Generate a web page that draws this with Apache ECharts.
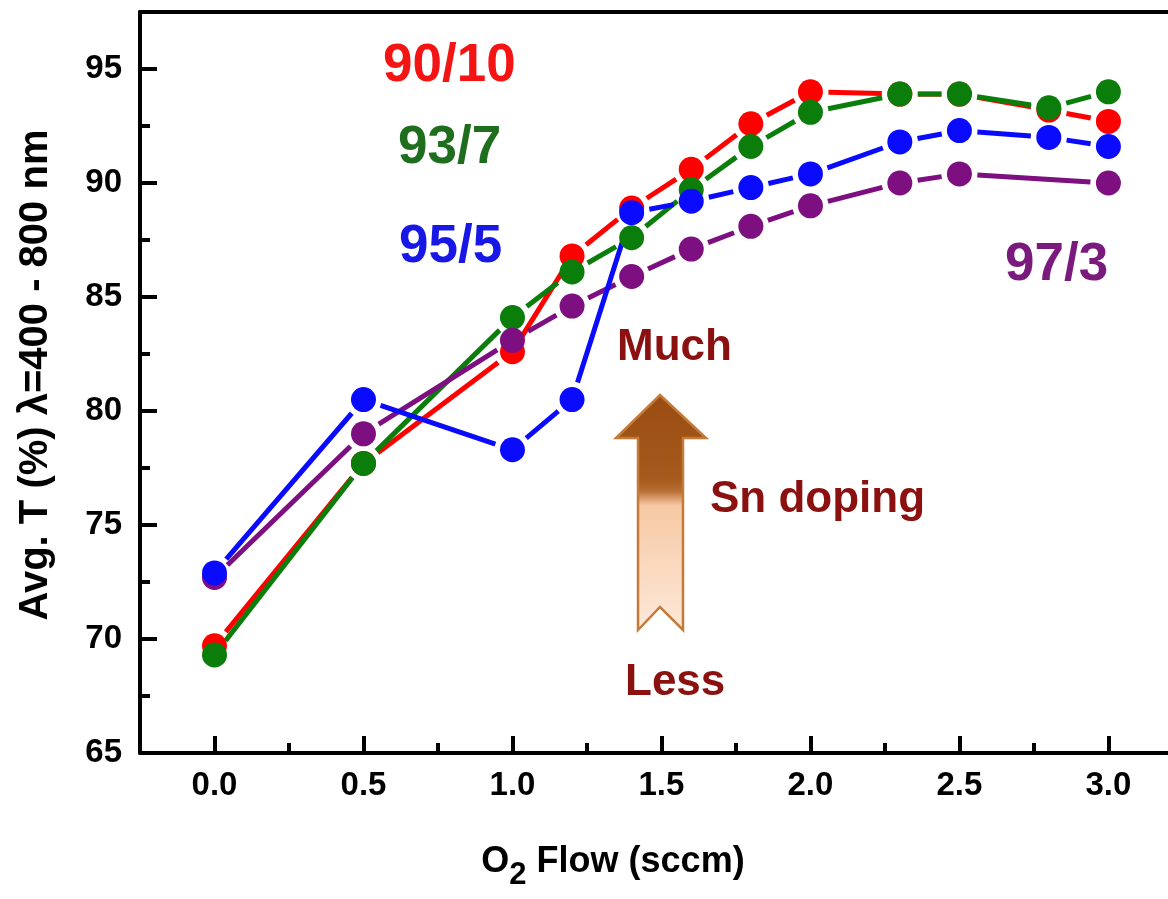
<!DOCTYPE html>
<html>
<head>
<meta charset="utf-8">
<script src="https://cdn.jsdelivr.net/npm/echarts@6/dist/echarts.min.js"></script>
<style>
html,body{margin:0;padding:0;background:#fff;}
#chart{width:1168px;height:899px;}
</style>
</head>
<body>
<div id="chart"></div>
<script>
// ---- data ----
const xFlow = [0, 0.5, 1.0, 1.2, 1.4, 1.6, 1.8, 2.0, 2.3, 2.5, 2.8, 3.0];
const t90_10 = [69.7, 77.7, 82.6, 86.8, 88.9, 90.6, 92.6, 94.0, 93.9, 93.9, 93.2, 92.7];
const t93_7  = [69.3, 77.7, 84.1, 86.1, 87.6, 89.7, 91.6, 93.1, 93.9, 93.9, 93.3, 94.0];
const t97_3  = [72.7, 79.0, 83.1, 84.6, 85.9, 87.1, 88.1, 89.0, 90.0, 90.4, null, 90.0];
const t95_5  = [72.9, 80.5, 78.3, 80.5, 88.7, 89.2, 89.8, 90.4, 91.8, 92.3, 92.0, 91.6];
const seriesNames = ['90/10', '93/7', '97/3', '95/5'];
const xTickLabels = [0, 0.5, 1.0, 1.5, 2.0, 2.5, 3.0];
const xMinorTicks = [0.25, 0.75, 1.25, 1.75, 2.25, 2.75];
const yTickLabels = [65, 70, 75, 80, 85, 90, 95];
const yMinorTicks = [67.5, 72.5, 77.5, 82.5, 87.5, 92.5];

const FONT = '"Liberation Sans", Arial, Helvetica, sans-serif';
const colors = {'90/10': '#ff0000', '93/7': '#0a7d0a', '97/3': '#7d0f80', '95/5': '#0a0aff'};
const valuesByName = {'90/10': t90_10, '93/7': t93_7, '97/3': t97_3, '95/5': t95_5};

function points(vals) {
  const p = [];
  xFlow.forEach((x, i) => { if (vals[i] != null) p.push([x, vals[i]]); });
  return p;
}
function segments(vals) {
  const p = points(vals), s = [];
  for (let i = 0; i < p.length - 1; i++) s.push([p[i][0], p[i][1], p[i + 1][0], p[i + 1][1]]);
  return s;
}
const TRIM = 18;
function makeRender(color) {
  return function (params, api) {
    const a = api.coord([api.value(0), api.value(1)]);
    const b = api.coord([api.value(2), api.value(3)]);
    const dx = b[0] - a[0], dy = b[1] - a[1];
    const len = Math.sqrt(dx * dx + dy * dy);
    if (len <= 2 * TRIM + 2) return null;
    const ux = dx / len, uy = dy / len;
    return {
      type: 'line',
      shape: {x1: a[0] + ux * TRIM, y1: a[1] + uy * TRIM, x2: b[0] - ux * TRIM, y2: b[1] - uy * TRIM},
      style: {stroke: color, lineWidth: 5, lineCap: 'butt'}
    };
  };
}

const series = [];
seriesNames.forEach(name => {
  const c = colors[name];
  series.push({
    type: 'custom', name: name + ' line', xAxisIndex: 0, yAxisIndex: 0,
    data: segments(valuesByName[name]),
    encode: {x: [0, 2], y: [1, 3]},
    renderItem: makeRender(c), silent: true, clip: false
  });
  series.push({
    type: 'scatter', name: name, xAxisIndex: 0, yAxisIndex: 0,
    data: points(valuesByName[name]), symbolSize: 25,
    itemStyle: {color: c, opacity: 1}, silent: true
  });
});

const chart = echarts.init(document.getElementById('chart'), null, {renderer: 'canvas'});
const X_MIN = -0.25, X_MAX = 3.2, Y_MIN = 65, Y_MAX = 97.5;
const axisBase = {type: 'value', splitLine: {show: false}};
const lineStyleBlack = {color: '#000', width: 4};
chart.setOption({
  animation: false,
  backgroundColor: '#ffffff',
  grid: {left: 140, top: 12, right: 0, bottom: 146, show: false},
  xAxis: [
    Object.assign({}, axisBase, {
      min: X_MIN, max: X_MAX, position: 'bottom',
      axisLine: {show: true, onZero: false, lineStyle: lineStyleBlack},
      axisTick: {show: true, inside: true, length: 17, customValues: xTickLabels, lineStyle: lineStyleBlack},
      axisLabel: {show: true, customValues: xTickLabels, margin: 16, formatter: v => Number(v).toFixed(1),
        color: '#000', fontSize: 33, fontWeight: 'bold', fontFamily: FONT}
    }),
    Object.assign({}, axisBase, {
      min: X_MIN, max: X_MAX, position: 'bottom',
      axisLine: {show: false, onZero: false},
      axisTick: {show: true, inside: true, length: 10, customValues: xMinorTicks, lineStyle: lineStyleBlack},
      axisLabel: {show: false}
    }),
    Object.assign({}, axisBase, {
      min: X_MIN, max: X_MAX, position: 'top',
      axisLine: {show: true, onZero: false, lineStyle: lineStyleBlack},
      axisTick: {show: false}, axisLabel: {show: false}
    })
  ],
  yAxis: [
    Object.assign({}, axisBase, {
      min: Y_MIN, max: Y_MAX, position: 'left',
      axisLine: {show: true, onZero: false, lineStyle: lineStyleBlack},
      axisTick: {show: true, inside: true, length: 17, customValues: yTickLabels, lineStyle: lineStyleBlack},
      axisLabel: {show: true, customValues: yTickLabels, margin: 18, formatter: v => String(v),
        color: '#000', fontSize: 33, fontWeight: 'bold', fontFamily: FONT}
    }),
    Object.assign({}, axisBase, {
      min: Y_MIN, max: Y_MAX, position: 'left', offset: 0,
      axisLine: {show: false, onZero: false},
      axisTick: {show: true, inside: true, length: 10, customValues: yMinorTicks, lineStyle: lineStyleBlack},
      axisLabel: {show: false}
    })
  ],
  series: series,
  graphic: [
    {type: 'text', x: 36, y: 375, rotation: Math.PI / 2,
      style: {text: 'Avg. T (%) \u03bb=400 - 800 nm', fill: '#000', font: 'bold 40px ' + FONT,
        textAlign: 'center', textVerticalAlign: 'middle'}},
    {type: 'text', x: 613, y: 862,
      style: {text: '{a|O}{s|2}{a| Flow (sccm)}', fill: '#000', textAlign: 'center', textVerticalAlign: 'middle',
        rich: {a: {fontSize: 36, lineHeight: 36, fontWeight: 'bold', fontFamily: FONT, fill: '#000'},
               s: {fontSize: 31, lineHeight: 30, fontWeight: 'bold', fontFamily: FONT, fill: '#000', padding: [26, 0, 0, 0]}}}},
    {type: 'text', x: 383, y: 66, style: {text: '90/10', fill: '#f41414', font: 'bold 53px ' + FONT, textVerticalAlign: 'middle'}},
    {type: 'text', x: 398, y: 148, style: {text: '93/7', fill: '#1e6e1e', font: 'bold 53px ' + FONT, textVerticalAlign: 'middle'}},
    {type: 'text', x: 399, y: 247, style: {text: '95/5', fill: '#1818e6', font: 'bold 53px ' + FONT, textVerticalAlign: 'middle'}},
    {type: 'text', x: 1005, y: 265, style: {text: '97/3', fill: '#7a1a7c', font: 'bold 53px ' + FONT, textVerticalAlign: 'middle'}},
    {type: 'text', x: 617, y: 348, style: {text: 'Much', fill: '#8b1010', font: 'bold 44px ' + FONT, textVerticalAlign: 'middle'}},
    {type: 'text', x: 710, y: 500, style: {text: 'Sn doping', fill: '#8b1010', font: 'bold 44px ' + FONT, textVerticalAlign: 'middle'}},
    {type: 'text', x: 625, y: 683, style: {text: 'Less', fill: '#8b1010', font: 'bold 44px ' + FONT, textVerticalAlign: 'middle'}},
    {type: 'polygon', z: 10,
      shape: {points: [[660, 395], [706, 438], [683, 438], [683, 630], [660, 607], [638, 630], [638, 438], [616, 438]]},
      style: {
        fill: new echarts.graphic.LinearGradient(0, 0, 0, 1, [
          {offset: 0, color: '#9a4c10'},
          {offset: 0.36, color: '#a65a1c'},
          {offset: 0.41, color: '#b86e34'},
          {offset: 0.47, color: '#f6c9a4'},
          {offset: 1, color: '#fde9da'}
        ]),
        stroke: '#c47a38', lineWidth: 2.5
      }}
  ]
});
</script>
</body>
</html>
